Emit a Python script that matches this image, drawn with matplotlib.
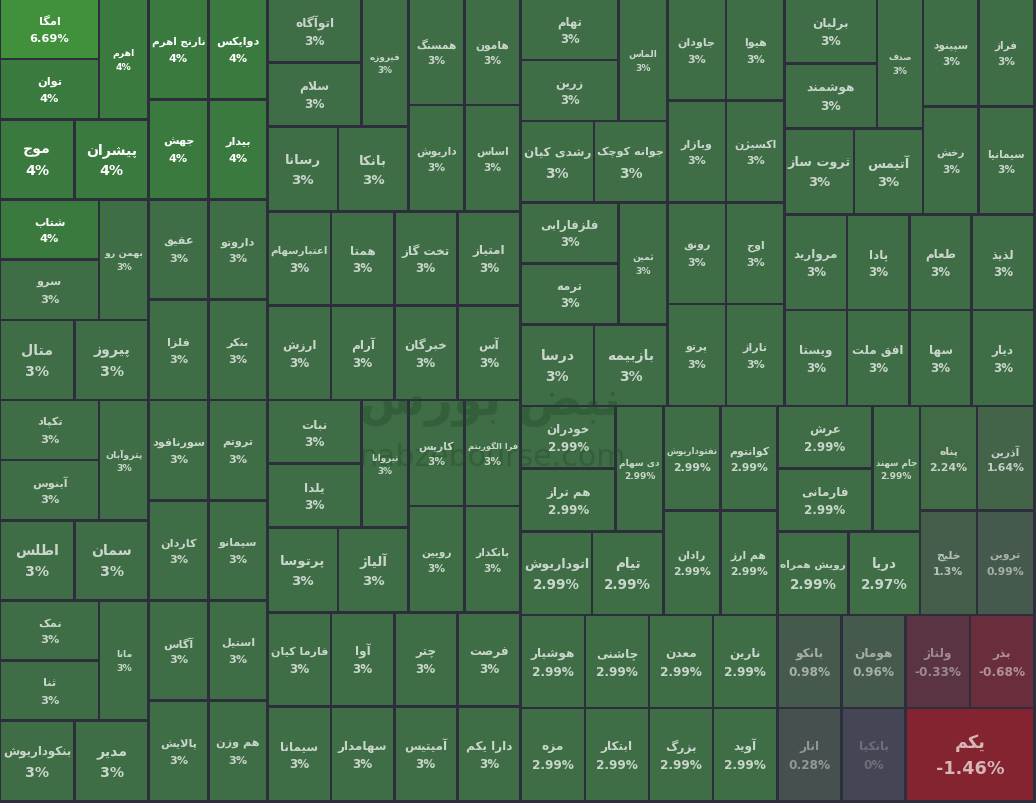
import numpy as np
import matplotlib
matplotlib.use("Agg")
import matplotlib.pyplot as plt
from matplotlib.patches import Rectangle

# Market map: one tile per symbol, ordered by daily change (highest first).
names = [
    # left half, top-left
    "امگا", "توان", "اهرم", "موج", "پیشران", "نارنج اهرم", "دوایکس", "جهش", "بیدار",
    "شتاب", "سرو", "بهمن رو", "متال", "پیروز", "عقیق", "داروتو", "فلزا", "بنکر",
    # left half, top-right
    "اتوآگاه", "سلام", "فیروزه", "رسانا", "بانکا", "همسنگ", "هامون", "داریوش", "اساس",
    "اعتبارسهام", "همتا", "ارزش", "آرام", "تخت گاز", "امتیاز", "خبرگان", "آس",
    # left half, bottom-left
    "تکپاد", "آبنوس", "پتروآبان", "اطلس", "سمان", "سورنافود", "تروتم", "کاردان", "سیمانو",
    "نمک", "ثنا", "مانا", "بنکوداریوش", "مدیر", "آگاس", "استیل", "پالایش", "هم وزن",
    # left half, bottom-right
    "نبات", "یلدا", "نیروانا", "پرتوسا", "آلیاژ", "کاریس", "فرا الگوریتم", "رویین", "بانکدار",
    "فارما کیان", "آوا", "سیمانا", "سهامدار", "چتر", "فرصت", "آمیتیس", "دارا یکم",
    # right half, top-left
    "تهام", "زرین", "الماس", "رشدی کیان", "جوانه کوچک", "جاودان", "هیوا", "وبازار", "اکسیژن",
    "فلزفارابی", "ترمه", "ثمین", "درسا", "بازبیمه", "رونق", "اوج", "پرتو", "تاراز",
    # right half, top-right
    "برلیان", "هوشمند", "صدف", "ثروت ساز", "آتیمس", "سپینود", "فراز", "رخش", "سیمانیا",
    "مروارید", "پادا", "ویستا", "افق ملت", "طعام", "لذیذ", "سها", "دیار",
    # right half, bottom-left
    "خودران", "هم تراز", "دی سهام", "اتوداریوش", "تیام", "نفتوداریوش", "کوانتوم", "رادان", "هم ارز",
    "هوشیار", "چاشنی", "مزه", "ابتکار", "معدن", "نارین", "بزرگ", "آوید",
    # right half, bottom-right
    "عرش", "فارمانی", "جام سهند", "رویش همراه", "دریا", "پناه", "آذرین", "خلیج", "تروین",
    "بانکو", "هومان", "انار", "بانکیا", "ولتاژ", "بذر", "یکم",
]

changes = [
    6.69, 4, 4, 4, 4, 4, 4, 4, 4,
    4, 3, 3, 3, 3, 3, 3, 3, 3,
    3, 3, 3, 3, 3, 3, 3, 3, 3,
    3, 3, 3, 3, 3, 3, 3, 3,
    3, 3, 3, 3, 3, 3, 3, 3, 3,
    3, 3, 3, 3, 3, 3, 3, 3, 3,
    3, 3, 3, 3, 3, 3, 3, 3, 3,
    3, 3, 3, 3, 3, 3, 3, 3,
    3, 3, 3, 3, 3, 3, 3, 3, 3,
    3, 3, 3, 3, 3, 3, 3, 3, 3,
    3, 3, 3, 3, 3, 3, 3, 3, 3,
    3, 3, 3, 3, 3, 3, 3, 3,
    2.99, 2.99, 2.99, 2.99, 2.99, 2.99, 2.99, 2.99, 2.99,
    2.99, 2.99, 2.99, 2.99, 2.99, 2.99, 2.99, 2.99,
    2.99, 2.99, 2.99, 2.99, 2.97, 2.24, 1.64, 1.3, 0.99,
    0.98, 0.96, 0.28, 0, -0.33, -0.68, -1.46,
]

# tile weights (all equal except the last symbol)
sizes = [
    1, 1, 1, 1, 1, 1, 1, 1, 1, 1, 1, 1, 1, 1, 1, 1, 1, 1,
    1, 1, 1, 1, 1, 1, 1, 1, 1, 1, 1, 1, 1, 1, 1, 1, 1,
    1, 1, 1, 1, 1, 1, 1, 1, 1, 1, 1, 1, 1, 1, 1, 1, 1, 1,
    1, 1, 1, 1, 1, 1, 1, 1, 1, 1, 1, 1, 1, 1, 1, 1, 1,
    1, 1, 1, 1, 1, 1, 1, 1, 1, 1, 1, 1, 1, 1, 1, 1, 1, 1,
    1, 1, 1, 1, 1, 1, 1, 1, 1, 1, 1, 1, 1, 1, 1, 1, 1,
    1, 1, 1, 1, 1, 1, 1, 1, 1, 1, 1, 1, 1, 1, 1, 1, 1,
    1, 1, 1, 1, 1, 1, 1, 1, 1, 1, 1, 1, 1, 1, 1, 2,
]

# colour anchors: daily change -> tile colour
color_steps = [-1.5, -0.68, -0.33, 0, 0.28, 0.97, 1.3, 1.64, 2.24, 3, 4, 6.69]
color_hex = ["#862430", "#6a2d3b", "#5a3442", "#444655", "#45504f", "#46594d",
             "#455e4b", "#44644a", "#416b47", "#3f6d46", "#3b7a3e", "#40903c"]
BG = "#2c2e3b"

# Persian letters -> (isolated, final, initial, medial) presentation forms
FORMS = {
    "ا": ("\uFE8D", "\uFE8E", None, None),
    "آ": ("\uFE81", "\uFE82", None, None),
    "ب": ("\uFE8F", "\uFE90", "\uFE91", "\uFE92"),
    "پ": ("\uFB56", "\uFB57", "\uFB58", "\uFB59"),
    "ت": ("\uFE95", "\uFE96", "\uFE97", "\uFE98"),
    "ث": ("\uFE99", "\uFE9A", "\uFE9B", "\uFE9C"),
    "ج": ("\uFE9D", "\uFE9E", "\uFE9F", "\uFEA0"),
    "چ": ("\uFB7A", "\uFB7B", "\uFB7C", "\uFB7D"),
    "ح": ("\uFEA1", "\uFEA2", "\uFEA3", "\uFEA4"),
    "خ": ("\uFEA5", "\uFEA6", "\uFEA7", "\uFEA8"),
    "د": ("\uFEA9", "\uFEAA", None, None),
    "ذ": ("\uFEAB", "\uFEAC", None, None),
    "ر": ("\uFEAD", "\uFEAE", None, None),
    "ز": ("\uFEAF", "\uFEB0", None, None),
    "ژ": ("\uFB8A", "\uFB8B", None, None),
    "س": ("\uFEB1", "\uFEB2", "\uFEB3", "\uFEB4"),
    "ش": ("\uFEB5", "\uFEB6", "\uFEB7", "\uFEB8"),
    "ص": ("\uFEB9", "\uFEBA", "\uFEBB", "\uFEBC"),
    "ض": ("\uFEBD", "\uFEBE", "\uFEBF", "\uFEC0"),
    "ط": ("\uFEC1", "\uFEC2", "\uFEC3", "\uFEC4"),
    "ظ": ("\uFEC5", "\uFEC6", "\uFEC7", "\uFEC8"),
    "ع": ("\uFEC9", "\uFECA", "\uFECB", "\uFECC"),
    "غ": ("\uFECD", "\uFECE", "\uFECF", "\uFED0"),
    "ف": ("\uFED1", "\uFED2", "\uFED3", "\uFED4"),
    "ق": ("\uFED5", "\uFED6", "\uFED7", "\uFED8"),
    "ک": ("\uFB8E", "\uFB8F", "\uFB90", "\uFB91"),
    "گ": ("\uFB92", "\uFB93", "\uFB94", "\uFB95"),
    "ل": ("\uFEDD", "\uFEDE", "\uFEDF", "\uFEE0"),
    "م": ("\uFEE1", "\uFEE2", "\uFEE3", "\uFEE4"),
    "ن": ("\uFEE5", "\uFEE6", "\uFEE7", "\uFEE8"),
    "ه": ("\uFEE9", "\uFEEA", "\uFEEB", "\uFEEC"),
    "و": ("\uFEED", "\uFEEE", None, None),
    "ی": ("\uFBFC", "\uFBFD", "\uFBFE", "\uFBFF"),
}
LAM_ALEF = {"ا": ("\uFEFB", "\uFEFC"), "آ": ("\uFEF5", "\uFEF6")}


# matplotlib has no Arabic shaping: pick contextual forms and reverse for RTL.
def shape_fa(text):
    out = []
    i = 0
    while i < len(text):
        ch = text[i]
        if ch not in FORMS:
            out.append(ch)
            i += 1
            continue
        prev = text[i - 1] if i > 0 else ""
        nxt = text[i + 1] if i + 1 < len(text) else ""
        joins_prev = prev in FORMS and FORMS[prev][2] is not None
        if ch == "ل" and nxt in LAM_ALEF:
            out.append(LAM_ALEF[nxt][1 if joins_prev else 0])
            i += 2
            continue
        iso, fin, ini, med = FORMS[ch]
        joins_next = ini is not None and nxt in FORMS
        if joins_prev and joins_next:
            out.append(med)
        elif joins_prev:
            out.append(fin)
        elif joins_next:
            out.append(ini)
        else:
            out.append(iso)
        i += 1
    return "".join(reversed(out))


# d3-style binary treemap: split in two halves of equal weight, keep order.
def binary_layout(values, x0, y0, x1, y1):
    sums = np.concatenate([[0], np.cumsum(values)])
    rects = [None] * len(values)

    def part(i, j, value, x0, y0, x1, y1):
        if i >= j - 1:
            rects[i] = (x0, y0, x1, y1)
            return
        target = value / 2 + sums[i]
        k, hi = i + 1, j - 1
        while k < hi:
            mid = (k + hi) // 2
            if sums[mid] < target:
                k = mid + 1
            else:
                hi = mid
        if (target - sums[k - 1]) < (sums[k] - target) and i + 1 < k:
            k -= 1
        left = sums[k] - sums[i]
        right = value - left
        if (x1 - x0) > (y1 - y0):
            xk = (x0 * right + x1 * left) / value
            part(i, k, left, x0, y0, xk, y1)
            part(k, j, right, xk, y0, x1, y1)
        else:
            yk = (y0 * right + y1 * left) / value
            part(i, k, left, x0, y0, x1, yk)
            part(k, j, right, x0, yk, x1, y1)

    part(0, len(values), sums[-1], x0, y0, x1, y1)
    return rects


def tile_color(c):
    rgb = np.array([matplotlib.colors.to_rgb(h) for h in color_hex])
    return tuple(np.interp(c, color_steps, rgb[:, k]) for k in range(3))


def text_alpha(c):
    return float(np.interp(abs(c), [0, 0.3, 1.0, 1.5, 3, 4], [0.22, 0.42, 0.52, 0.68, 0.72, 1.0]))


W, H = 1036, 804
fig = plt.figure(figsize=(W / 100, H / 100), dpi=100, facecolor=BG)
ax = fig.add_axes([0, 0, 1, 1])
ax.set_xlim(0, W)
ax.set_ylim(H, 0)
ax.axis("off")
ax.set_facecolor(BG)

rects = binary_layout(sizes, 0, 0, 1034, 802)
gap = 1.3
px2pt = 72 / 100

labels = []
for name, c, (x0, y0, x1, y1) in zip(names, changes, rects):
    ax.add_patch(Rectangle((x0 + gap, y0 + gap), x1 - x0 - 2 * gap, y1 - y0 - 2 * gap,
                           facecolor=tile_color(c), edgecolor="none", zorder=1))
    w, h = x1 - x0, y1 - y0
    fs = min(0.19 * min(w, h), 18)
    cx, cy = (x0 + x1) / 2, (y0 + y1) / 2
    col = (1, 1, 1, text_alpha(c))
    t1 = ax.text(cx, cy - 0.72 * fs, shape_fa(name), ha="center", va="center",
                 fontsize=fs * px2pt, fontweight="bold", color=col, zorder=4)
    t2 = ax.text(cx, cy + 0.78 * fs, f"{c:g}%", ha="center", va="center",
                 fontsize=fs * px2pt, fontweight="bold", color=col, zorder=4)
    labels.append((t1, w))
    labels.append((t2, w))

# watermark (site logo) behind the labels
wm = "#1d4526"
ax.text(490, 404, shape_fa("نبض بورس"), ha="center", va="center", fontsize=48 * px2pt,
        fontweight="bold", color=wm, alpha=0.33, zorder=2)
ax.text(492, 458, "nabzebourse.com", ha="center", va="center", fontsize=30 * px2pt,
        color=wm, alpha=0.33, zorder=2)

# shrink labels that do not fit their tile
fig.canvas.draw()
renderer = fig.canvas.get_renderer()
for t, w in labels:
    bw = t.get_window_extent(renderer).width
    if bw > w - 6:
        t.set_fontsize(t.get_fontsize() * (w - 6) / bw)

fig.savefig("out.png", dpi=100, facecolor=BG)
